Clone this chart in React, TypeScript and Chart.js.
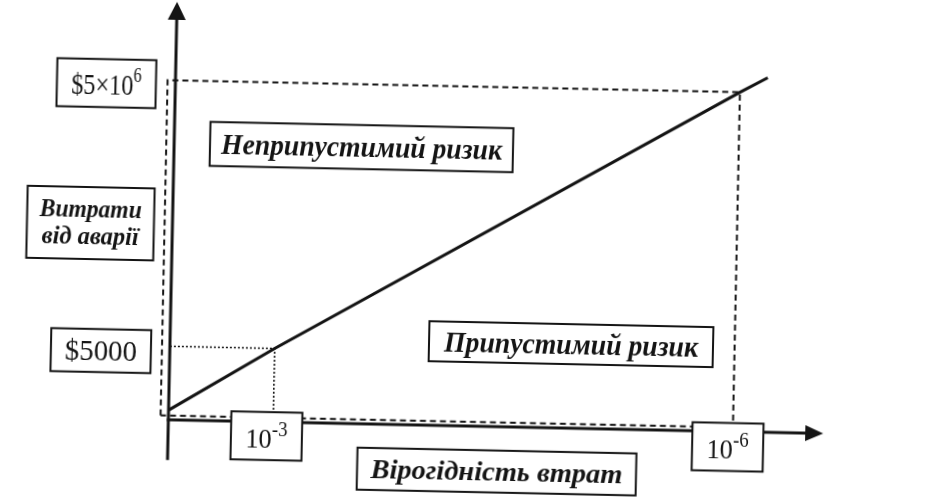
import React, { useEffect, useRef } from "react";
import { Chart, registerables } from "chart.js";

Chart.register(...registerables);

// ---------- data (schematic units: x = probability axis, y = cost axis) ----------
const riskLineX = [0, 1.6, 8.62, 9.04];
const riskLineY = [2.3, 17.6, 81.2, 84.8];
const markerX = [1.6, 8.62];
const markerY = [17.6, 81.2];
const probabilityBase = ["10", "10"];
const probabilityExp = ["-3", "-6"];
const costBase = ["$5000", "$5×10"];
const costExp = ["", "6"];
const regionLabels = ["Неприпустимий ризик", "Припустимий ризик"];
const yTitleLines = ["Витрати", "від аварії"];
const xTitle = "Вірогідність втрат";

// ---------- layout / style (not data) ----------
const INK = "#141414";
const FRAME_LEFT = -0.12;
const FRAME_BOTTOM = 1;
const GUIDE_BOTTOM = 2.5;
const Y_AXIS_BOTTOM = -9.6;
const SERIF = "'Liberation Serif', 'Times New Roman', serif";

const costBoxes = [
  { x: -1.052, y: 16.2, w: 100, h: 43, tw: 72 },
  { x: -1.053, y: 80.2, w: 99, h: 48, tw: 70 },
];
const probBoxes = [
  { x: 1.502, y: -3.4, w: 71, h: 48 },
  { x: 8.545, y: -3.7, w: 71, h: 48 },
];
const regionBoxes = [
  { x: 2.861, y: 66.2, w: 303, h: 44, tw: 281 },
  { x: 6.122, y: 20.1, w: 284, h: 40, tw: 254 },
];
const yTitleBox = { x: -1.252, y: 46.65, w: 127, h: 72, tw: [102, 97] };
const xTitleBox = { x: 5.026, y: -10.74, w: 279, h: 42, tw: 252 };

function drawBox(ctx: CanvasRenderingContext2D, cx: number, cy: number, w: number, h: number) {
  ctx.save();
  ctx.fillStyle = "#ffffff";
  ctx.fillRect(cx - w / 2, cy - h / 2, w, h);
  ctx.lineWidth = 2;
  ctx.strokeStyle = INK;
  ctx.strokeRect(cx - w / 2, cy - h / 2, w, h);
  ctx.restore();
}

function drawFitted(
  ctx: CanvasRenderingContext2D,
  text: string,
  cx: number,
  baseline: number,
  font: string,
  targetW: number
) {
  ctx.save();
  ctx.font = font;
  ctx.fillStyle = INK;
  const m = ctx.measureText(text).width;
  const s = targetW ? targetW / m : 1;
  ctx.translate(cx, baseline);
  ctx.scale(s, 1);
  ctx.textAlign = "center";
  ctx.textBaseline = "alphabetic";
  ctx.fillText(text, 0, 0);
  ctx.restore();
}

function drawSup(
  ctx: CanvasRenderingContext2D,
  base: string,
  exp: string,
  cx: number,
  baseline: number,
  size: number,
  supSize: number,
  rise: number,
  targetW: number
) {
  ctx.save();
  ctx.fillStyle = INK;
  ctx.textBaseline = "alphabetic";
  ctx.textAlign = "left";
  const f1 = `${size}px ${SERIF}`;
  const f2 = `${supSize}px ${SERIF}`;
  ctx.font = f1;
  const w1 = ctx.measureText(base).width;
  ctx.font = f2;
  const w2 = exp ? ctx.measureText(exp).width : 0;
  const total = w1 + w2;
  const s = targetW ? targetW / total : 1;
  ctx.translate(cx, baseline);
  ctx.scale(s, 1);
  ctx.font = f1;
  ctx.fillText(base, -total / 2, 0);
  if (exp) {
    ctx.font = f2;
    ctx.fillText(exp, -total / 2 + w1, -rise);
  }
  ctx.restore();
}

const diagramPlugin = {
  id: "riskDiagram",
  beforeDraw(chart: any) {
    const { ctx, width, height } = chart;
    ctx.save();
    ctx.fillStyle = "#ffffff";
    ctx.fillRect(0, 0, width, height);
    ctx.restore();
  },
  beforeDatasetsDraw(chart: any) {
    const { ctx, scales } = chart;
    const xs = scales.x;
    const ys = scales.y;
    const x0 = xs.getPixelForValue(0);
    const y0 = ys.getPixelForValue(0);
    const yTop = ys.getPixelForValue(ys.max);
    const xEnd = xs.getPixelForValue(xs.max);
    const yBottom = ys.getPixelForValue(Y_AXIS_BOTTOM);
    ctx.save();
    ctx.strokeStyle = INK;
    ctx.fillStyle = INK;
    ctx.lineWidth = 3;
    ctx.lineCap = "butt";
    // y axis
    ctx.beginPath();
    ctx.moveTo(x0, yBottom);
    ctx.lineTo(x0, yTop + 16);
    ctx.stroke();
    ctx.beginPath();
    ctx.moveTo(x0, yTop);
    ctx.lineTo(x0 - 9, yTop + 18);
    ctx.lineTo(x0 + 9, yTop + 18);
    ctx.closePath();
    ctx.fill();
    // x axis
    ctx.beginPath();
    ctx.moveTo(x0 - 1.5, y0);
    ctx.lineTo(xEnd - 16, y0);
    ctx.stroke();
    ctx.beginPath();
    ctx.moveTo(xEnd, y0);
    ctx.lineTo(xEnd - 18, y0 - 8);
    ctx.lineTo(xEnd - 18, y0 + 8);
    ctx.closePath();
    ctx.fill();
    ctx.restore();
  },
  afterDatasetsDraw(chart: any) {
    const { ctx, scales } = chart;
    const px = (v: number) => scales.x.getPixelForValue(v);
    const py = (v: number) => scales.y.getPixelForValue(v);

    // cost labels
    costBase.forEach((t, i) => {
      const b = costBoxes[i];
      const cx = px(b.x);
      const cy = py(b.y);
      drawBox(ctx, cx, cy, b.w, b.h);
      if (costExp[i]) {
        drawSup(ctx, t, costExp[i], cx, cy + 11, 30, 20, 13, b.tw);
      } else {
        drawFitted(ctx, t, cx, cy + 10, `30px ${SERIF}`, b.tw);
      }
    });

    // probability labels
    probabilityBase.forEach((t, i) => {
      const b = probBoxes[i];
      const cx = px(b.x);
      const cy = py(b.y);
      drawBox(ctx, cx, cy, b.w, b.h);
      drawSup(ctx, t, probabilityExp[i], cx, cy + 12, 28, 20, 12, 42);
    });

    // region labels
    regionLabels.forEach((t, i) => {
      const b = regionBoxes[i];
      const cx = px(b.x);
      const cy = py(b.y);
      drawBox(ctx, cx, cy, b.w, b.h);
      drawFitted(ctx, t, cx, cy + 10, `bold italic 30px ${SERIF}`, b.tw);
    });

    // y title
    {
      const cx = px(yTitleBox.x);
      const cy = py(yTitleBox.y);
      drawBox(ctx, cx, cy, yTitleBox.w, yTitleBox.h);
      drawFitted(ctx, yTitleLines[0], cx, cy - 6, `bold italic 25px ${SERIF}`, yTitleBox.tw[0]);
      drawFitted(ctx, yTitleLines[1], cx, cy + 21, `bold italic 25px ${SERIF}`, yTitleBox.tw[1]);
    }

    // x title
    {
      const cx = px(xTitleBox.x);
      const cy = py(xTitleBox.y);
      drawBox(ctx, cx, cy, xTitleBox.w, xTitleBox.h);
      drawFitted(ctx, xTitle, cx, cy + 9, `bold italic 27px ${SERIF}`, xTitleBox.tw);
    }
  },
};

export default function App() {
  const canvasRef = useRef<HTMLCanvasElement | null>(null);

  useEffect(() => {
    const canvas = canvasRef.current;
    if (!canvas) return;

    const riskLine = riskLineX.map((x, i) => ({ x, y: riskLineY[i] }));
    const lowGuide = [
      { x: 0, y: markerY[0] },
      { x: markerX[0], y: markerY[0] },
      { x: markerX[0], y: GUIDE_BOTTOM },
    ];
    const frame = [
      { x: FRAME_LEFT, y: FRAME_BOTTOM },
      { x: FRAME_LEFT, y: markerY[1] },
      { x: markerX[1], y: markerY[1] },
      { x: markerX[1], y: FRAME_BOTTOM },
      { x: FRAME_LEFT, y: FRAME_BOTTOM },
    ];

    const chart = new Chart(canvas, {
      type: "scatter",
      data: {
        datasets: [
          {
            label: "frame",
            data: frame,
            showLine: true,
            borderColor: INK,
            borderWidth: 2,
            borderDash: [6, 4],
            pointRadius: 0,
            clip: false as any,
          },
          {
            label: "guide",
            data: lowGuide,
            showLine: true,
            borderColor: INK,
            borderWidth: 1.6,
            borderDash: [2, 2],
            pointRadius: 0,
            clip: false as any,
          },
          {
            label: "risk",
            data: riskLine,
            showLine: true,
            borderColor: INK,
            borderWidth: 3,
            pointRadius: 0,
            clip: false as any,
          },
        ],
      },
      options: {
        responsive: false,
        animation: false,
        devicePixelRatio: 1,
        events: [],
        layout: { padding: { left: 172, right: 108, top: 8, bottom: 72 } },
        scales: {
          x: { type: "linear", min: 0, max: 10, display: false },
          y: { type: "linear", min: 0, max: 100, display: false },
        },
        plugins: {
          legend: { display: false },
          tooltip: { enabled: false },
          title: { display: false },
        },
      },
      plugins: [diagramPlugin],
    });

    return () => chart.destroy();
  }, []);

  return (
    <div style={{ position: "fixed", left: 0, top: 0, width: 935, height: 498, background: "#ffffff", overflow: "hidden" }}>
      <canvas
        ref={canvasRef}
        width={935}
        height={498}
        style={{
          display: "block",
          width: 935,
          height: 498,
          transform: "rotate(1.2deg)",
          transformOrigin: "467.5px 249px",
        }}
      />
    </div>
  );
}
